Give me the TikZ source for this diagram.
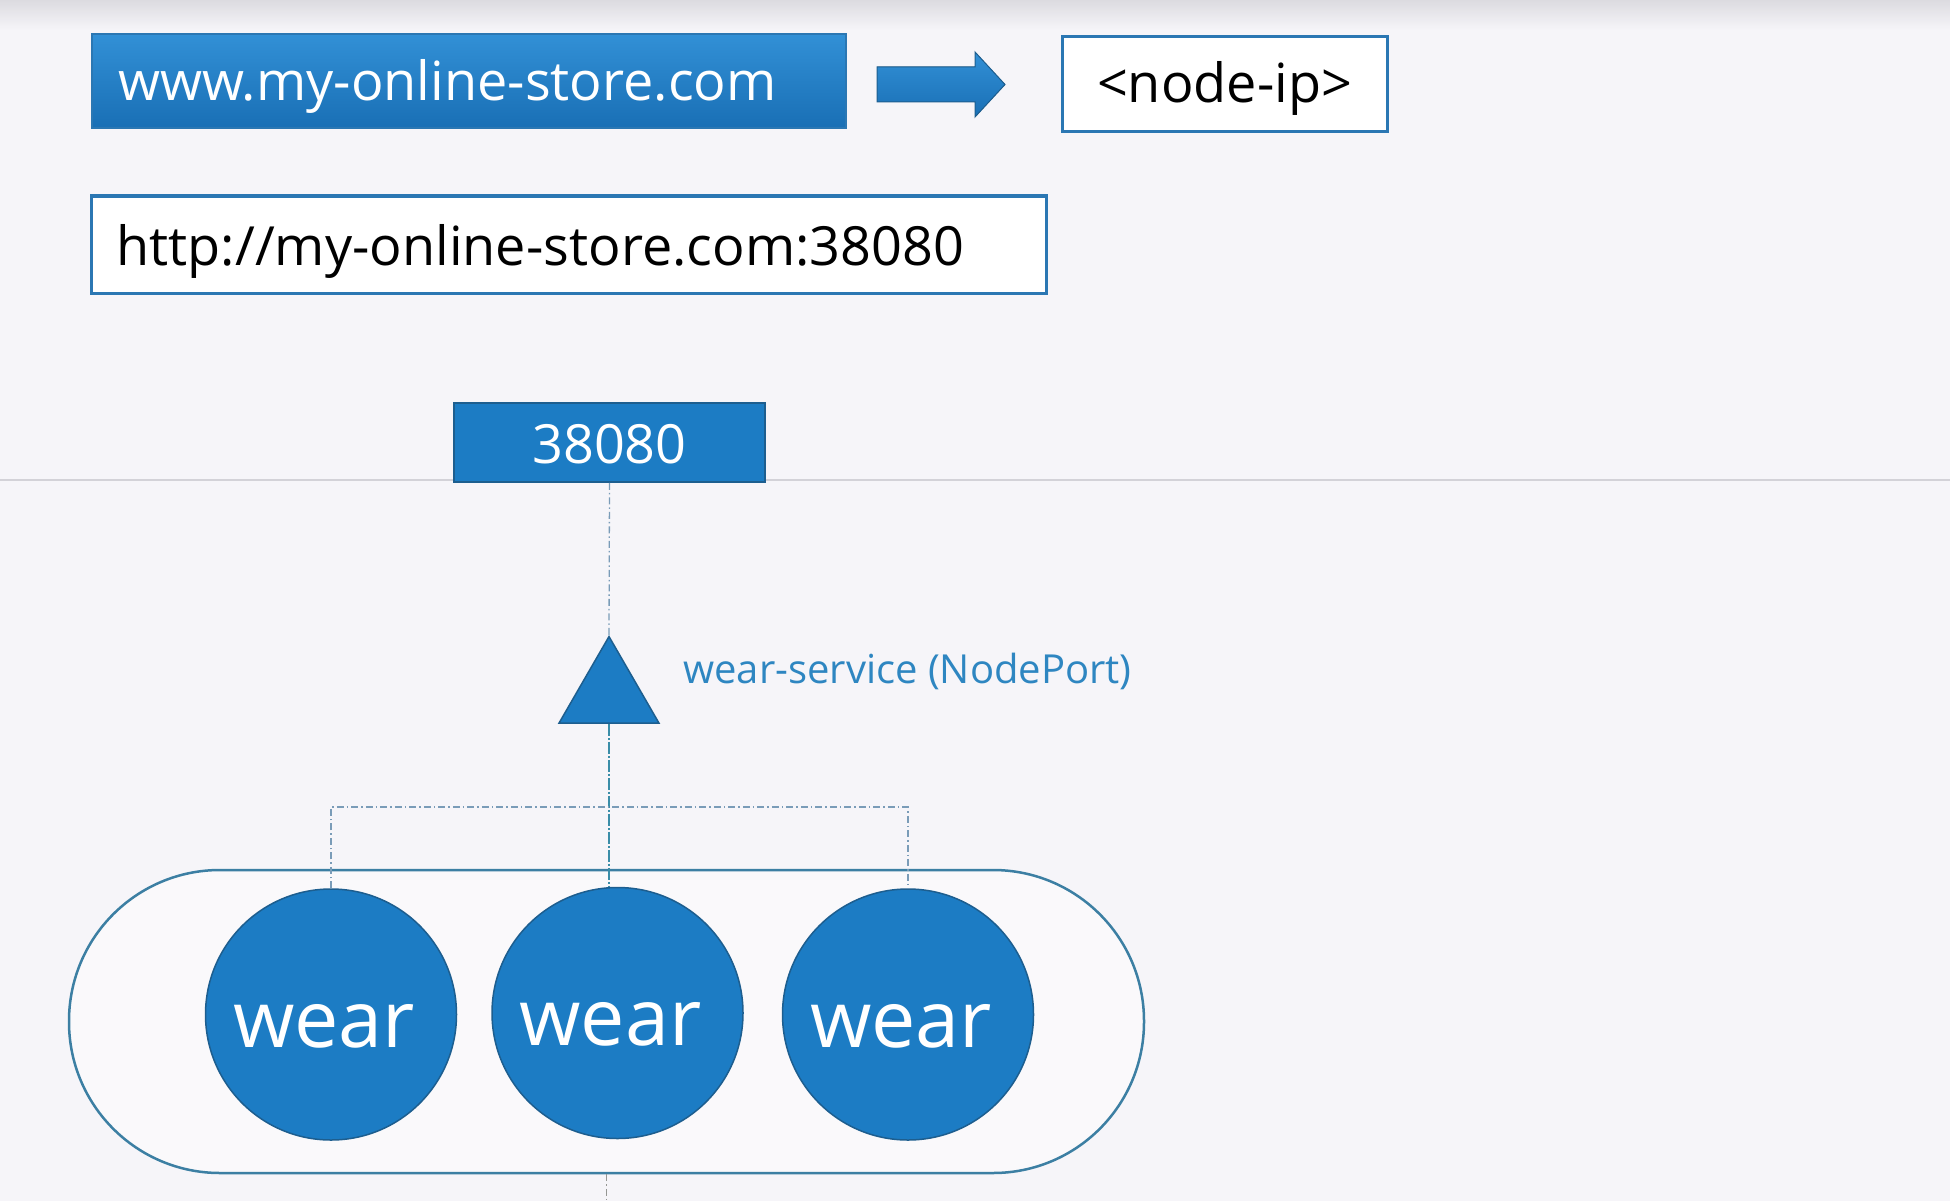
\documentclass[tikz,border=0pt]{standalone}
\usepackage{fontspec}
\setmainfont{Open Sans}
\usetikzlibrary{shapes.geometric}
\definecolor{bg}{HTML}{F6F5F9}
\definecolor{bgtop}{HTML}{DCDBE0}
\definecolor{kblue}{HTML}{1C7CC4}
\definecolor{kdark}{HTML}{1D5E8F}
\definecolor{gtop}{HTML}{3290D6}
\definecolor{gbot}{HTML}{196FB5}
\definecolor{boxline}{HTML}{2B77B3}
\definecolor{poolline}{HTML}{3C7FA3}
\definecolor{dashc}{HTML}{7A9CB8}
\definecolor{dashteal}{HTML}{3A8DA8}
\definecolor{lbl}{HTML}{2E86C1}
\definecolor{hline}{HTML}{D3D2D8}
\tikzset{
  bigfont/.style={font=\fontsize{54pt}{60pt}\selectfont},
  bluebox/.style={draw=kdark, line width=1.5pt, fill=kblue, text=white, bigfont, inner sep=0pt},
  whitebox/.style={draw=boxline, line width=3pt, fill=white, text=black, bigfont, inner sep=0pt},
  pod/.style={circle, draw=kdark, line width=1.5pt, fill=kblue, text=white, minimum size=251pt,
    inner sep=0pt, font=\fontsize{79pt}{90pt}\selectfont, text height=65pt, text depth=0pt},
  dashdot/.style={draw=dashc, line width=1.3pt, dash pattern=on 7pt off 3pt on 1.5pt off 3pt},
}
\begin{document}
\begin{tikzpicture}[x=1pt, y=-1pt]
\useasboundingbox (0,0) rectangle (1950,1201);
\fill[bg] (0,0) rectangle (1950,1201);
\fill[top color=bgtop, bottom color=bg] (0,0) rectangle (1950,30);
% horizontal rule
\draw[hline, line width=2pt] (0,480) -- (1950,480);

% top boxes
\node[draw=boxline, line width=1.5pt, top color=gtop, bottom color=gbot, text=white, bigfont,
      minimum width=754pt, minimum height=94pt, inner xsep=26pt, inner ysep=0pt,
      text width=702pt, align=left, text height=40pt, text depth=0pt]
      (www) at (469,81) {www.my-online-store.com};
\fill[top color=gtop, bottom color=gbot, draw=kdark, line width=1pt]
  (877,67) -- (975,67) -- (975,52) -- (1005,84.5) -- (975,117) -- (975,102) -- (877,102) -- cycle;
\node[whitebox, minimum width=325pt, minimum height=95pt, text height=37pt, text depth=0pt]
      (nip) at (1224.5,84.5) {<node-ip>};
\node[whitebox, minimum width=955pt, minimum height=97pt, inner xsep=25.5pt,
      text width=904pt, align=left, text height=41pt, text depth=0pt]
      (http) at (568.5,244.5) {http://my-online-store.com:38080};

% port box
\node[bluebox, minimum width=311pt, minimum height=79pt, text height=41pt, text depth=0pt]
      (port) at (609.5,442.5) {38080};

% service triangle
\node[regular polygon, regular polygon sides=3, minimum size=115.5pt, inner sep=0pt,
      draw=kdark, line width=1.5pt, fill=kblue] (svc) at (609,694.3) {};
\node[anchor=base west, text=lbl, font=\fontsize{40pt}{48pt}\selectfont, inner sep=0pt]
      (svclbl) at (683,683) {wear-service (NodePort)};

% pool and pods
\node[draw=poolline, line width=2.5pt, fill=white!40!bg, minimum width=1075pt, minimum height=303pt,
      rounded corners=151pt, inner sep=0pt] (pool) at (606.5,1021.5) {};
\node[pod] (pod1) at (331,1014.5) {\hspace*{-14pt}wear};
\node[pod] (pod2) at (617.5,1013) {\hspace*{-14pt}wear};
\node[pod] (pod3) at (908,1014.5) {\hspace*{-14pt}wear};

% connectors
\coordinate (bus) at (609,807);
\coordinate (bottomend) at (606,1201);
\draw[dashdot] (port.south) -- (svc.north);
\draw[draw=dashteal, line width=1.3pt, dash pattern=on 12pt off 2pt on 2pt off 2pt]
  (svc.south) -- (svc.south |- pod2.north);
\draw[dashdot] (pod1.north) -- (pod1.north |- bus) -- (pod3.north |- bus) -- (pod3.north);
\draw[dashdot, draw=dashc!80!orange] (pool.south) -- (pool.south |- bottomend);
\end{tikzpicture}
\end{document}
